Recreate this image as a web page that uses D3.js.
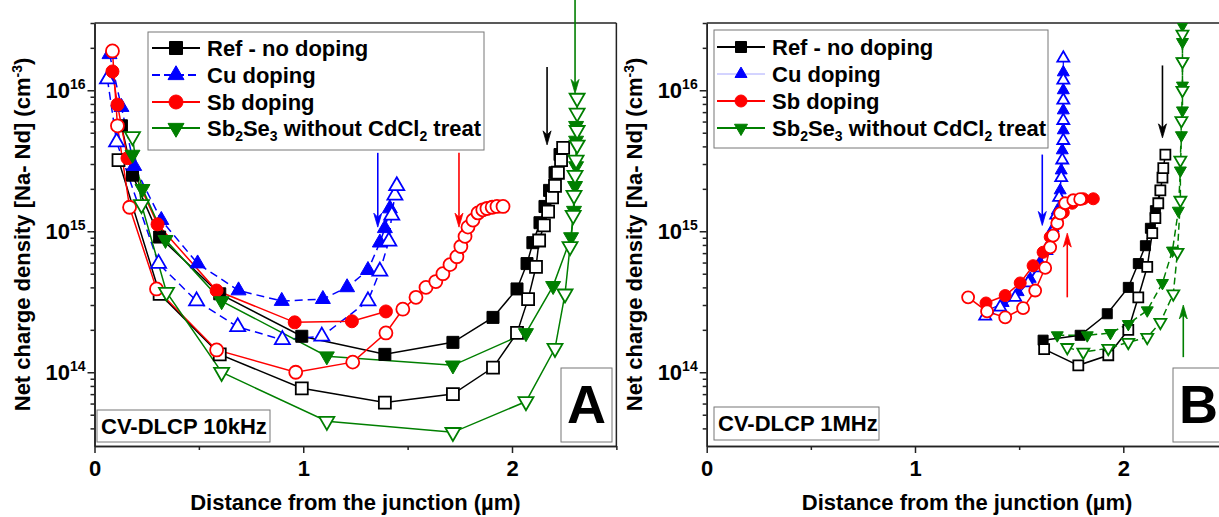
<!DOCTYPE html>
<html><head><meta charset="utf-8">
<script src="https://cdn.jsdelivr.net/npm/d3@7/dist/d3.min.js"></script>
<style>
body{margin:0;background:#fff}
svg{display:block}
text{font-family:Arial,"Liberation Sans",sans-serif;font-weight:bold;fill:#000}
</style>
</head><body>
<svg id="c" width="1219" height="517"></svg>
<script>
// ---------- axes ----------
const xDomain = [0, 2.5];
const yDomain = [3e13, 3e16];
const xMajor = [0, 1, 2];
const xTickLabels = ['0', '1', '2'];
const xMinor = [0.5, 1.5, 2.5];
const yMajor = [1e14, 1e15, 1e16];
const yMajorExp = ['14', '15', '16'];
const yMinor = [4e13,5e13,6e13,7e13,8e13,9e13,2e14,3e14,4e14,5e14,6e14,7e14,8e14,9e14,2e15,3e15,4e15,5e15,6e15,7e15,8e15,9e15,2e16,3e16];

// ---------- panel A (CV-DLCP 10 kHz): [distance µm, Na-Nd cm^-3] ----------
const refFilledA = [[0.129,5.6e15],[0.182,2.5e15],[0.312,9.1e14],[0.600,3.6e14],[0.993,1.8e14],[1.391,1.34e14],[1.717,1.63e14],[1.909,2.45e14],[2.024,3.9e14],[2.072,5.9e14],[2.100,8.3e14],[2.134,1.15e15],[2.158,1.5e15],[2.180,1.95e15],[2.206,2.6e15],[2.230,3.5e15]];
const refOpenA = [[0.115,3.2e15],[0.312,3.6e14],[0.600,1.34e14],[0.993,7.7e13],[1.391,6.1e13],[1.717,7.0e13],[1.909,1.08e14],[2.024,1.9e14],[2.077,3.3e14],[2.115,5.6e14],[2.130,8.6e14],[2.153,1.1e15],[2.173,1.38e15],[2.192,1.74e15],[2.206,2.1e15],[2.220,2.6e15],[2.235,3.2e15],[2.245,3.9e15]];
const cuFilledA = [[0.072,1.8e16],[0.129,7.6e15],[0.190,2.9e15],[0.320,1.2e15],[0.494,5.9e14],[0.690,3.8e14],[0.897,3.2e14],[1.094,3.3e14],[1.210,4.0e14],[1.310,5.3e14],[1.367,8.3e14],[1.391,1.05e15],[1.415,1.45e15]];
const cuOpenA = [[0.062,1.2e16],[0.106,4.3e15],[0.307,5.9e14],[0.489,3.2e14],[0.686,2.1e14],[0.900,1.7e14],[1.089,1.8e14],[1.310,3.2e14],[1.367,5.2e14],[1.410,8.5e14],[1.424,1.3e15],[1.439,1.8e15],[1.448,2.1e15]];
const sbFilledA = [[0.086,1.36e16],[0.110,7.9e15],[0.158,3.3e15],[0.302,1.12e15],[0.585,3.8e14],[0.959,2.26e14],[1.233,2.3e14],[1.396,2.7e14]];
const sbOpenA = [[0.086,1.9e16],[0.110,5.6e15],[0.168,1.48e15],[0.297,3.9e14],[0.585,1.44e14],[0.964,1.0e14],[1.237,1.18e14],[1.396,1.9e14],[1.477,2.8e14],[1.540,3.4e14],[1.588,4.0e14],[1.635,4.4e14],[1.669,5.0e14],[1.703,5.8e14],[1.736,6.6e14],[1.755,7.8e14],[1.775,9.2e14],[1.789,1.07e15],[1.813,1.2e15],[1.837,1.35e15],[1.860,1.42e15],[1.880,1.45e15],[1.905,1.48e15],[1.928,1.5e15],[1.957,1.5e15]];
const seFilledA = [[0.182,3.5e15],[0.230,2.0e15],[0.340,8.7e14],[0.609,3.2e14],[1.113,1.3e14],[1.717,1.12e14],[2.067,1.9e14],[2.197,4.1e14],[2.283,9.1e14],[2.297,1.4e15],[2.302,2.1e15],[2.307,2.9e15],[2.307,4.4e15],[2.307,5.6e15]];
const seOpenA = [[0.182,4.7e15],[0.225,1.55e15],[0.345,3.7e14],[0.609,1.0e14],[1.113,4.5e13],[1.717,3.75e13],[2.067,6.2e13],[2.206,1.48e14],[2.254,3.6e14],[2.278,7.8e14],[2.293,1.3e15],[2.297,1.8e15],[2.302,2.5e15],[2.307,3.2e15],[2.312,4.1e15],[2.312,5.2e15],[2.312,6.9e15],[2.312,8.8e15]];
// arrows: [x, from, to, series]
const arrowsA = [[1.357,3.6e15,1.07e15,'cu'],[1.746,3.6e15,1.07e15,'sb'],[2.168,1.46e16,4.1e15,'ref'],[2.302,4.4e16,9.5e15,'se']];

// ---------- panel B (CV-DLCP 1 MHz) ----------
const refFilledB = [[1.615,1.69e14],[1.793,1.83e14],[1.923,2.6e14],[2.024,4.0e14],[2.072,5.9e14],[2.106,7.9e14],[2.130,1.05e15],[2.154,1.4e15],[2.178,1.95e15]];
const refOpenB = [[1.620,1.46e14],[1.784,1.12e14],[1.928,1.32e14],[2.024,2.0e14],[2.072,3.4e14],[2.115,5.6e14],[2.139,9.7e14],[2.154,1.24e15],[2.168,1.58e15],[2.178,1.95e15],[2.188,2.4e15],[2.192,2.8e15],[2.202,3.5e15]];
const cuFilledB = [[1.351,2.75e14],[1.423,3.1e14],[1.495,3.7e14],[1.553,4.6e14],[1.601,6.0e14],[1.639,7.9e14],[1.663,1.05e15],[1.683,1.4e15],[1.697,1.95e15],[1.702,2.7e15],[1.707,3.75e15],[1.712,5.2e15],[1.712,7.2e15],[1.712,1.0e16],[1.712,1.34e16]];
const cuOpenB = [[1.337,2.5e14],[1.409,2.9e14],[1.481,3.4e14],[1.543,4.3e14],[1.591,5.5e14],[1.630,7.3e14],[1.659,9.8e14],[1.678,1.3e15],[1.692,1.74e15],[1.702,2.4e15],[1.707,3.2e15],[1.712,4.4e15],[1.712,6.1e15],[1.712,8.5e15],[1.712,1.18e16],[1.712,1.69e16]];
const sbFilledB = [[1.341,3.1e14],[1.433,3.5e14],[1.505,4.3e14],[1.567,5.7e14],[1.615,7.1e14],[1.649,9.1e14],[1.683,1.16e15],[1.712,1.36e15],[1.755,1.58e15],[1.808,1.7e15],[1.856,1.7e15]];
const sbOpenB = [[1.255,3.4e14],[1.346,2.7e14],[1.433,2.45e14],[1.519,2.85e14],[1.577,3.8e14],[1.625,5.5e14],[1.649,7.7e14],[1.663,9.3e14],[1.683,1.14e15],[1.697,1.34e15],[1.721,1.58e15],[1.760,1.66e15],[1.793,1.69e15]];
const seFilledB = [[1.683,1.83e14],[1.827,1.83e14],[1.938,1.9e14],[2.024,2.2e14],[2.115,2.75e14],[2.188,4.3e14],[2.236,7.3e14],[2.264,1.4e15],[2.274,2.7e15],[2.279,4.8e15],[2.284,7.2e15],[2.284,1.08e16],[2.284,1.6e16],[2.284,2.2e16],[2.284,2.9e16]];
const seOpenB = [[1.731,1.5e14],[1.808,1.39e14],[1.928,1.48e14],[2.024,1.63e14],[2.115,1.77e14],[2.178,2.26e14],[2.240,3.6e14],[2.260,7.1e14],[2.274,1.66e15],[2.274,3.2e15],[2.279,6.1e15],[2.284,1.0e16],[2.284,1.6e16],[2.284,2.5e16]];
const arrowsB = [[1.611,3.5e15,1.1e15,'cu'],[1.731,3.4e14,9.7e14,'sb'],[2.188,1.5e16,4.6e15,'ref'],[2.288,1.28e14,3.0e14,'se']];

// ---------- legend / labels ----------
const legendKeys = ['ref','cu','sb','se'];
const legendLabels = [
  [['Ref - no doping']],
  [['Cu doping']],
  [['Sb doping']],
  [['Sb'],['2','sub'],['Se'],['3','sub'],[' without CdCl'],['2','sub'],[' treat']]
];
const freqLabels = ['CV-DLCP 10kHz', 'CV-DLCP 1MHz'];
const panelLetters = ['A', 'B'];
const xTitle = 'Distance from the junction (\u00b5m)';

const COLORS = {ref:'#000000', cu:'#0000ff', sb:'#ff0000', se:'#007f00'};
const SHAPES = {ref:'square', cu:'tri', sb:'circle', se:'dtri'};

const W = 1219, H = 517, TOP = 23, BOTTOM = 446, FS = 22;
const svg = d3.select('#c');
const defs = svg.append('defs');

function symPath(shape, s) {
  const t = {square:d3.symbolSquare, circle:d3.symbolCircle, tri:d3.symbolTriangle, dtri:d3.symbolTriangle}[shape];
  let area;
  if (shape === 'square') area = s*s;
  else if (shape === 'circle') area = Math.PI*(s/2)*(s/2);
  else area = s*s*Math.sqrt(3)/4;
  return d3.symbol().type(t).size(area)();
}
function symRot(shape){ return shape === 'dtri' ? ' rotate(180)' : ''; }
function styleAxis(sel) {
  sel.selectAll('path.domain').attr('stroke', '#222').attr('stroke-width', 1.5);
  sel.selectAll('.tick line').attr('stroke', '#222').attr('stroke-width', 1.5);
}

function drawPanel(cfg) {
  const x = d3.scaleLinear().domain(xDomain).range([cfg.left, cfg.left + 2.5*cfg.unit]);
  const y = d3.scaleLog().domain(yDomain).range([BOTTOM, TOP]);
  const right = Math.min(x(2.5), W + 2);
  const g = svg.append('g');

  defs.append('clipPath').attr('id', 'clip' + cfg.id)
    .append('rect').attr('x', cfg.left).attr('y', TOP).attr('width', right - cfg.left).attr('height', BOTTOM - TOP);

  g.append('line').attr('x1', cfg.left).attr('x2', right).attr('y1', TOP).attr('y2', TOP).attr('stroke', '#222').attr('stroke-width', 1.5);
  if (cfg.rightFrame) g.append('line').attr('x1', right).attr('x2', right).attr('y1', TOP).attr('y2', BOTTOM).attr('stroke', '#222').attr('stroke-width', 1.5);

  const fb = cfg.freqBox;
  g.append('rect').attr('x', fb[0]).attr('y', fb[1]).attr('width', fb[2]).attr('height', fb[3]).attr('fill', '#fff').attr('stroke', '#777').attr('stroke-width', 1);
  g.append('text').attr('x', fb[0] + 4).attr('y', fb[1] + 24).attr('font-size', FS).text(cfg.freq);
  const lb = cfg.letterBox;
  g.append('rect').attr('x', lb[0]).attr('y', lb[1]).attr('width', lb[2]).attr('height', lb[3]).attr('fill', '#fff').attr('stroke', '#777').attr('stroke-width', 1);
  g.append('text').attr('x', cfg.letterX).attr('y', 423).attr('font-size', 54).attr('text-anchor', 'middle').text(cfg.letter);

  const dg = g.append('g').attr('clip-path', 'url(#clip' + cfg.id + ')');
  const line = d3.line().x(d => x(d[0])).y(d => y(d[1]));
  cfg.series.forEach(s => {
    dg.append('path').attr('d', line(s.data)).attr('fill', 'none')
      .attr('stroke', COLORS[s.key]).attr('stroke-width', s.lw || 1.5)
      .attr('stroke-dasharray', s.dash || null);
  });
  cfg.series.forEach(s => {
    const shape = SHAPES[s.key];
    const size = cfg.msize[shape];
    dg.append('g').selectAll('path').data(s.data).join('path')
      .attr('transform', d => `translate(${x(d[0])},${y(d[1])})${symRot(shape)}`)
      .attr('d', symPath(shape, size))
      .attr('fill', s.open ? '#fff' : COLORS[s.key])
      .attr('stroke', COLORS[s.key])
      .attr('stroke-width', s.open ? 1.8 : 1);
  });

  cfg.arrows.forEach(a => {
    const c = COLORS[a[3]];
    const ax = x(a[0]), y0 = y(a[1]), y1 = y(a[2]);
    const dir = y1 > y0 ? 1 : -1;
    g.append('line').attr('x1', ax).attr('x2', ax).attr('y1', y0).attr('y2', y1 - dir*6).attr('stroke', c).attr('stroke-width', 1.6);
    g.append('path').attr('d', `M${ax},${y1} L${ax-4},${y1 - dir*14} L${ax},${y1 - dir*10} L${ax+4},${y1 - dir*14} Z`).attr('fill', c).attr('stroke', c).attr('stroke-width', 0.8);
  });

  // x axis (major + minor in separate groups)
  const xaMinor = g.append('g').attr('transform', `translate(0,${BOTTOM})`)
    .call(d3.axisBottom(x).tickValues(xMinor).tickSize(4).tickSizeOuter(0).tickFormat(''));
  styleAxis(xaMinor);
  const xa = g.append('g').attr('transform', `translate(0,${BOTTOM})`)
    .call(d3.axisBottom(x).tickValues(xMajor).tickSize(7).tickSizeOuter(0).tickPadding(7).tickFormat((d, i) => xTickLabels[i]));
  styleAxis(xa);
  xa.selectAll('.tick text').attr('font-size', FS).attr('font-family', 'Arial, "Liberation Sans", sans-serif').attr('font-weight', 'bold').attr('fill', '#000');

  // y axis
  const yaMinor = g.append('g').attr('transform', `translate(${cfg.left},0)`)
    .call(d3.axisLeft(y).tickValues(yMinor).tickSize(4).tickSizeOuter(0).tickFormat(''));
  styleAxis(yaMinor);
  const ya = g.append('g').attr('transform', `translate(${cfg.left},0)`)
    .call(d3.axisLeft(y).tickValues(yMajor).tickSize(7).tickSizeOuter(0).tickFormat(''));
  styleAxis(ya);
  yMajor.forEach((v, i) => {
    const t = g.append('text').attr('x', cfg.left - 9).attr('y', y(v) + 8).attr('text-anchor', 'end').attr('font-size', FS);
    t.append('tspan').text('10');
    t.append('tspan').attr('dy', -9).attr('font-size', 14).text(yMajorExp[i]);
  });

  g.append('text').attr('x', (cfg.left + x(2.5)) / 2).attr('y', 510).attr('text-anchor', 'middle').attr('font-size', FS).text(xTitle);
  const yt = g.append('text').attr('transform', `translate(${cfg.ytX},${(TOP + BOTTOM) / 2}) rotate(-90)`).attr('text-anchor', 'middle').attr('font-size', FS);
  yt.append('tspan').text('Net charge density [Na- Nd] (cm');
  yt.append('tspan').attr('dy', -8).attr('font-size', 14).text('-3');
  yt.append('tspan').attr('dy', 8).text(')');

  // legend
  const L = cfg.legend;
  g.append('rect').attr('x', L.box[0]).attr('y', L.box[1]).attr('width', L.box[2]).attr('height', L.box[3]).attr('fill', '#fff').attr('stroke', '#777').attr('stroke-width', 1);
  legendKeys.forEach((k, i) => {
    const yy = L.rows[i];
    const st = L.styles[k];
    g.append('line').attr('x1', L.lx[0]).attr('x2', L.lx[1]).attr('y1', yy).attr('y2', yy)
      .attr('stroke', st.color || COLORS[k]).attr('stroke-width', st.lw || 2).attr('stroke-dasharray', st.dash || null);
    const shape = SHAPES[k];
    g.append('path').attr('transform', `translate(${L.mx},${yy})${symRot(shape)}`)
      .attr('d', symPath(shape, L.msize[shape])).attr('fill', COLORS[k]).attr('stroke', COLORS[k]).attr('stroke-width', 1);
    const t = g.append('text').attr('x', L.tx).attr('y', yy + 8).attr('font-size', FS);
    let prevSub = false;
    legendLabels[i].forEach(p => {
      if (p[1] === 'sub') { t.append('tspan').attr('font-size', 14).attr('dy', 5).text(p[0]); prevSub = true; }
      else { const sp = t.append('tspan').text(p[0]); if (prevSub) sp.attr('dy', -5); prevSub = false; }
    });
  });
}

drawPanel({
  id: 'A', left: 94.5, unit: 208.75, rightFrame: true,
  freq: freqLabels[0], freqBox: [97, 410, 173, 32],
  letter: panelLetters[0], letterBox: [561, 368, 51, 74], letterX: 586.5,
  ytX: 30,
  msize: {square: 12, circle: 13, tri: 15, dtri: 15},
  series: [
    {key:'ref', data: refFilledA}, {key:'ref', data: refOpenA, open: true},
    {key:'cu', data: cuFilledA, dash: '8,5'}, {key:'cu', data: cuOpenA, open: true, dash: '8,5'},
    {key:'sb', data: sbFilledA}, {key:'sb', data: sbOpenA, open: true},
    {key:'se', data: seFilledA}, {key:'se', data: seOpenA, open: true}
  ],
  arrows: arrowsA,
  legend: {
    box: [148, 32, 336, 118], rows: [48, 75, 102, 128], lx: [152, 200], mx: 176, tx: 207,
    msize: {square: 13, circle: 14, tri: 16, dtri: 16},
    styles: {ref: {}, cu: {dash: '8,4'}, sb: {}, se: {}}
  }
});

drawPanel({
  id: 'B', left: 706.7, unit: 208.3, rightFrame: false,
  freq: freqLabels[1], freqBox: [714, 407, 165, 33],
  letter: panelLetters[1], letterBox: [1173, 368, 50, 74], letterX: 1198.5,
  ytX: 642,
  msize: {square: 10, circle: 12, tri: 12, dtri: 12},
  series: [
    {key:'ref', data: refFilledB}, {key:'ref', data: refOpenB, open: true},
    {key:'cu', data: cuFilledB, lw: 1.2}, {key:'cu', data: cuOpenB, open: true, lw: 1.2},
    {key:'sb', data: sbFilledB}, {key:'sb', data: sbOpenB, open: true},
    {key:'se', data: seFilledB, dash: '7,4'}, {key:'se', data: seOpenB, open: true, dash: '7,4'}
  ],
  arrows: arrowsB,
  legend: {
    box: [714, 30, 334, 118], rows: [47, 74, 101, 128], lx: [717, 765], mx: 741, tx: 772,
    msize: {square: 11, circle: 12, tri: 12, dtri: 13},
    styles: {ref: {}, cu: {color: '#a8a8ff', lw: 1}, sb: {}, se: {}}
  }
});
</script>
</body></html>
